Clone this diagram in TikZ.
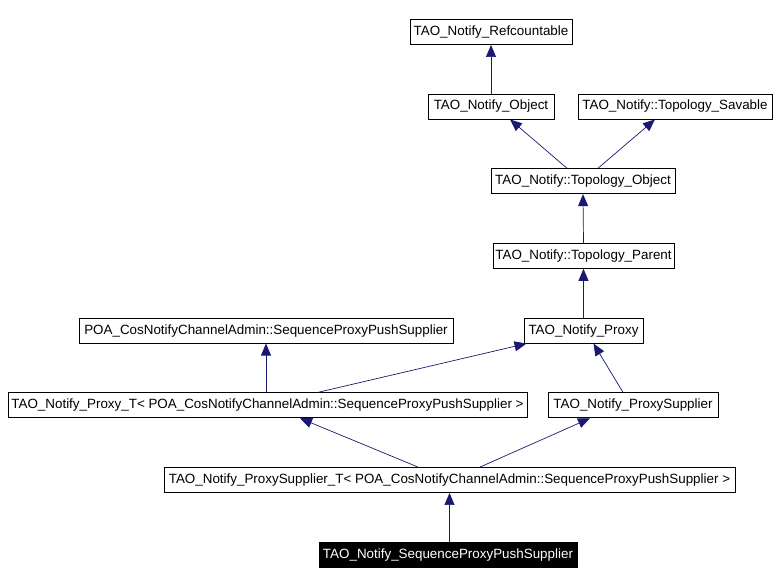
\documentclass[tikz,border=0pt]{standalone}
\usepackage{fontspec}
\setmainfont{Liberation Sans}
\usetikzlibrary{arrows.meta}
\definecolor{cc}{RGB}{25, 25, 112}

\begin{document}
\begin{tikzpicture}[x=1pt, y=-1pt,
  cls/.style={draw=black, line width=0.9pt, fill=white, text=black, minimum height=25pt, inner sep=0pt, font=\fontsize{13.4}{15}\selectfont},
  cur/.style={cls, fill=black, text=white},
  inh/.style={line width=0.7pt, color=cc, -{Triangle[length=12pt, width=10pt]}}]
\useasboundingbox (0,0) rectangle (779,584);
\node (1) [cls, minimum width=162pt] at (491.0, 32.0) {TAO\_Notify\_Refcountable};
\node (2) [cls, minimum width=126pt] at (491.0, 106.5) {TAO\_Notify\_Object};
\node (3) [cls, minimum width=194pt] at (675.0, 106.5) {TAO\_Notify::Topology\_Savable};
\node (4) [cls, minimum width=184pt] at (583.0, 181.2) {TAO\_Notify::Topology\_Object};
\node (5) [cls, minimum width=181pt] at (583.5, 255.9) {TAO\_Notify::Topology\_Parent};
\node (6) [cls, minimum width=374pt] at (266.0, 330.6) {POA\_CosNotifyChannelAdmin::SequenceProxyPushSupplier};
\node (7) [cls, minimum width=119pt] at (583.5, 330.6) {TAO\_Notify\_Proxy};
\node (8) [cls, minimum width=519pt] at (267.5, 405.3) {TAO\_Notify\_Proxy\_T< POA\_CosNotifyChannelAdmin::SequenceProxyPushSupplier >};
\node (9) [cls, minimum width=170pt] at (633.0, 405.3) {TAO\_Notify\_ProxySupplier};
\node (10) [cls, minimum width=571pt] at (449.5, 480.0) {TAO\_Notify\_ProxySupplier\_T< POA\_CosNotifyChannelAdmin::SequenceProxyPushSupplier >};
\node (11) [cur, minimum width=258pt] at (448.0, 554.7) {TAO\_Notify\_SequenceProxyPushSupplier};
\draw [inh] (2.north) to (1.south);
\draw [inh] ([xshift=-16pt]4.north) to ([xshift=19pt]2.south);
\draw [inh] ([xshift=15pt]4.north) to ([xshift=-20pt]3.south);
\draw [inh] (5.north) to (4.south);
\draw [inh] (7.north) to (5.south);
\draw [inh] ([xshift=-1.5pt]8.north) to (6.south);
\draw [inh] ([xshift=50.5pt]8.north) to ([xshift=-57pt]7.south);
\draw [inh] ([xshift=-10pt]9.north) to ([xshift=10pt]7.south);
\draw [inh] ([xshift=-31.5pt]10.north) to ([xshift=32.5pt]8.south);
\draw [inh] ([xshift=30.5pt]10.north) to ([xshift=-43pt]9.south);
\draw [inh] ([xshift=1.5pt]11.north) to (10.south);
\end{tikzpicture}
\end{document}
